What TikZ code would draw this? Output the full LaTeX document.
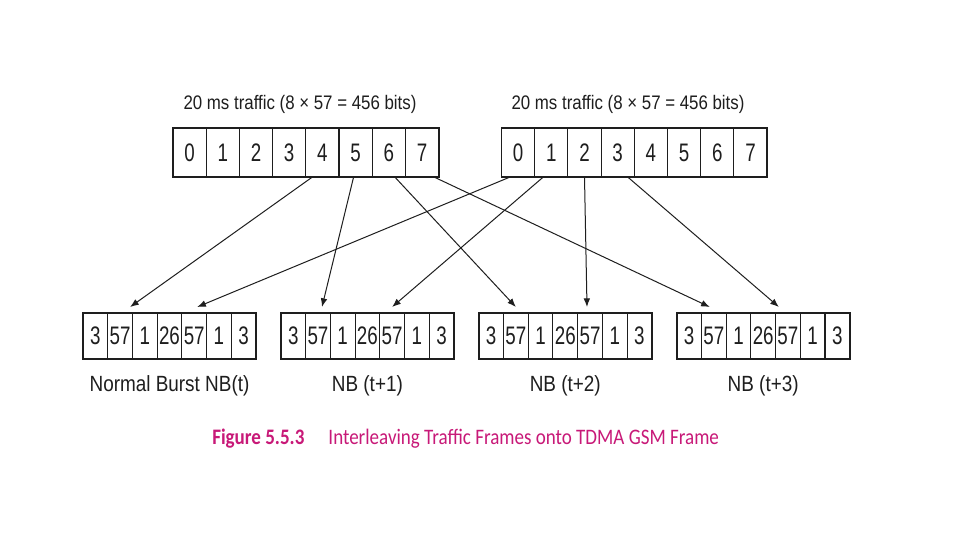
\documentclass[tikz,border=0pt]{standalone}
\usepackage{fontspec}
\usepackage{tikz}
\usetikzlibrary{arrows.meta}

\newfontfamily\narrowsans[FakeStretch=0.86]{Liberation Sans}
\newfontfamily\cellsans[FakeStretch=0.74]{Liberation Sans}
\newfontfamily\capfont[FakeStretch=0.86]{Carlito}
\definecolor{figpink}{RGB}{200,25,120}
\definecolor{ink}{RGB}{30,30,30}

\tikzset{
  topcell/.style = {draw=ink, line width=0.8pt, minimum width=24.9pt, minimum height=36.75pt,
    inner sep=0pt, outer sep=0pt, text=ink, font=\cellsans\fontsize{19}{20}\selectfont},
  burstcell/.style = {draw=ink, line width=0.8pt, minimum width=18.53pt, minimum height=34.5pt,
    inner sep=0pt, outer sep=0pt, text=ink, font=\cellsans\fontsize{19}{20}\selectfont},
  frame/.style = {draw=ink, line width=1.4pt},
  link/.style = {draw=ink, line width=0.75pt, -{Latex[length=6.5pt,width=5pt]}},
  heading/.style = {anchor=base, inner sep=0pt, text=ink, font=\narrowsans\fontsize{14.7}{17}\selectfont},
  burstlabel/.style = {anchor=base, inner sep=0pt, text=ink, font=\narrowsans\fontsize{16.5}{19}\selectfont},
  caption/.style = {anchor=base west, inner sep=0pt, text=figpink, font=\capfont\fontsize{16.6}{19}\selectfont}
}

\begin{document}
\begin{tikzpicture}[x=0.75pt, y=-0.75pt]
        \useasboundingbox (0,0) rectangle (960,540);
        \fill[white] (0,0) rectangle (960,540);

        % two 20 ms traffic blocks
        \node[heading] (headL) at (300,109) {20 ms traffic (8 × 57 = 456 bits)};
        \node[heading] (headR) at (628,109) {20 ms traffic (8 × 57 = 456 bits)};

        \foreach \i in {0,...,7} {
            \node[topcell] (L\i) at ({189.6+33.2*\i},152.5) {\i};
            \node[topcell] (R\i) at ({518.1+33.2*\i},152.5) {\i};
        }
        \draw[frame] (L0.north west) rectangle (L7.south east);
        \draw[frame] (R0.north west) rectangle (R7.south east);

        % four normal bursts
        \foreach \k/\txt in {0/Normal Burst NB(t), 1/NB (t+1), 2/NB (t+2), 3/NB (t+3)} {
            \foreach \v [count=\i from 0] in {3,57,1,26,57,1,3}
                \node[burstcell] (B\k-\i) at ({95.36+197.9*\k+24.71*\i},336) {\v};
            \draw[frame] (B\k-0.north west) rectangle (B\k-6.south east);
            \node[burstlabel] (T\k) at ({169.5+197.9*\k},391) {\txt};
        }

        % interleaving
        \foreach \s/\sx/\t/\tx in {L4/-10/B0-1/10, L5/-2/B1-1/4, L6/6/B2-1/0, L7/12/B3-1/-4,
                                   R0/-8/B0-4/3, R1/-8/B1-4/0, R2/0/B2-4/-3, R3/10/B3-4/-9}
            \draw[link] ([shift={(\sx,0)}]\s.south) -- ([shift={(\tx,-6)}]\t.north);

        \node[caption] (cap) at (212,444) {\textbf{Figure 5.5.3}\hspace{18pt}Interleaving Traffic Frames onto TDMA GSM Frame};
\end{tikzpicture}
\end{document}
